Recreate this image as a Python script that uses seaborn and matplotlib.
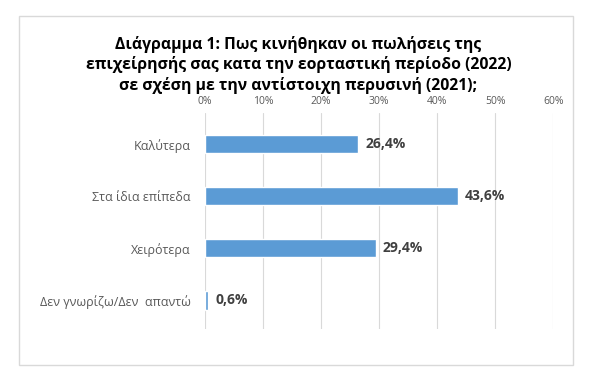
import matplotlib
matplotlib.use('Agg')
import matplotlib.pyplot as plt
import seaborn as sns
import pandas as pd
from matplotlib.patches import Rectangle
from matplotlib.ticker import FuncFormatter

categories = ['Καλύτερα', 'Στα ίδια επίπεδα', 'Χειρότερα', 'Δεν γνωρίζω/Δεν  απαντώ']
values = [26.4, 43.6, 29.4, 0.6]
ticks = [0, 10, 20, 30, 40, 50, 60]
title = ('Διάγραμμα 1: Πως κινήθηκαν οι πωλήσεις της\n'
         'επιχείρησής σας κατα την εορταστική περίοδο (2022)\n'
         'σε σχέση με την αντίστοιχη περυσινή (2021);')

df = pd.DataFrame({'cat': categories, 'val': values})

sns.set_style('white')
plt.rcParams['font.family'] = ['Open Sans', 'DejaVu Sans']

fig = plt.figure(figsize=(5.97, 3.74), dpi=100)
ax = fig.add_axes([0.343, 0.12, 0.584, 0.578])

sns.barplot(data=df, x='val', y='cat', color='#5B9BD5', saturation=1, width=0.35, ax=ax)

ax.set_xlim(0, 60)
ax.set_ylim(3.55, -0.6)
ax.set_xticks(ticks)
ax.xaxis.set_major_formatter(FuncFormatter(lambda v, p: f'{v:.0f}%'))
ax.xaxis.tick_top()
ax.tick_params(axis='x', length=0, labelsize=7.5, labelcolor='#595959', pad=4)
ax.tick_params(axis='y', length=0, labelsize=9, labelcolor='#595959', pad=10)
ax.grid(axis='x', color='#D9D9D9', linewidth=0.8)
ax.set_axisbelow(True)
for s in ax.spines.values():
    s.set_visible(False)
ax.set_xlabel('')
ax.set_ylabel('')

for i, v in enumerate(values):
    ax.text(v + 1.2, i, f'{v:.1f}%'.replace('.', ','), va='center', ha='left',
            fontsize=10, fontweight='bold', color='#404040')

fig.text(0.5, 0.905, title, ha='center', va='top', fontsize=11.3, fontweight='bold',
         color='#000000', linespacing=1.3)

fig.patches.append(Rectangle((0.032, 0.024), 0.928, 0.933, transform=fig.transFigure,
                             fill=False, edgecolor='#D9D9D9', linewidth=1))

fig.savefig('out.png', dpi=100)
